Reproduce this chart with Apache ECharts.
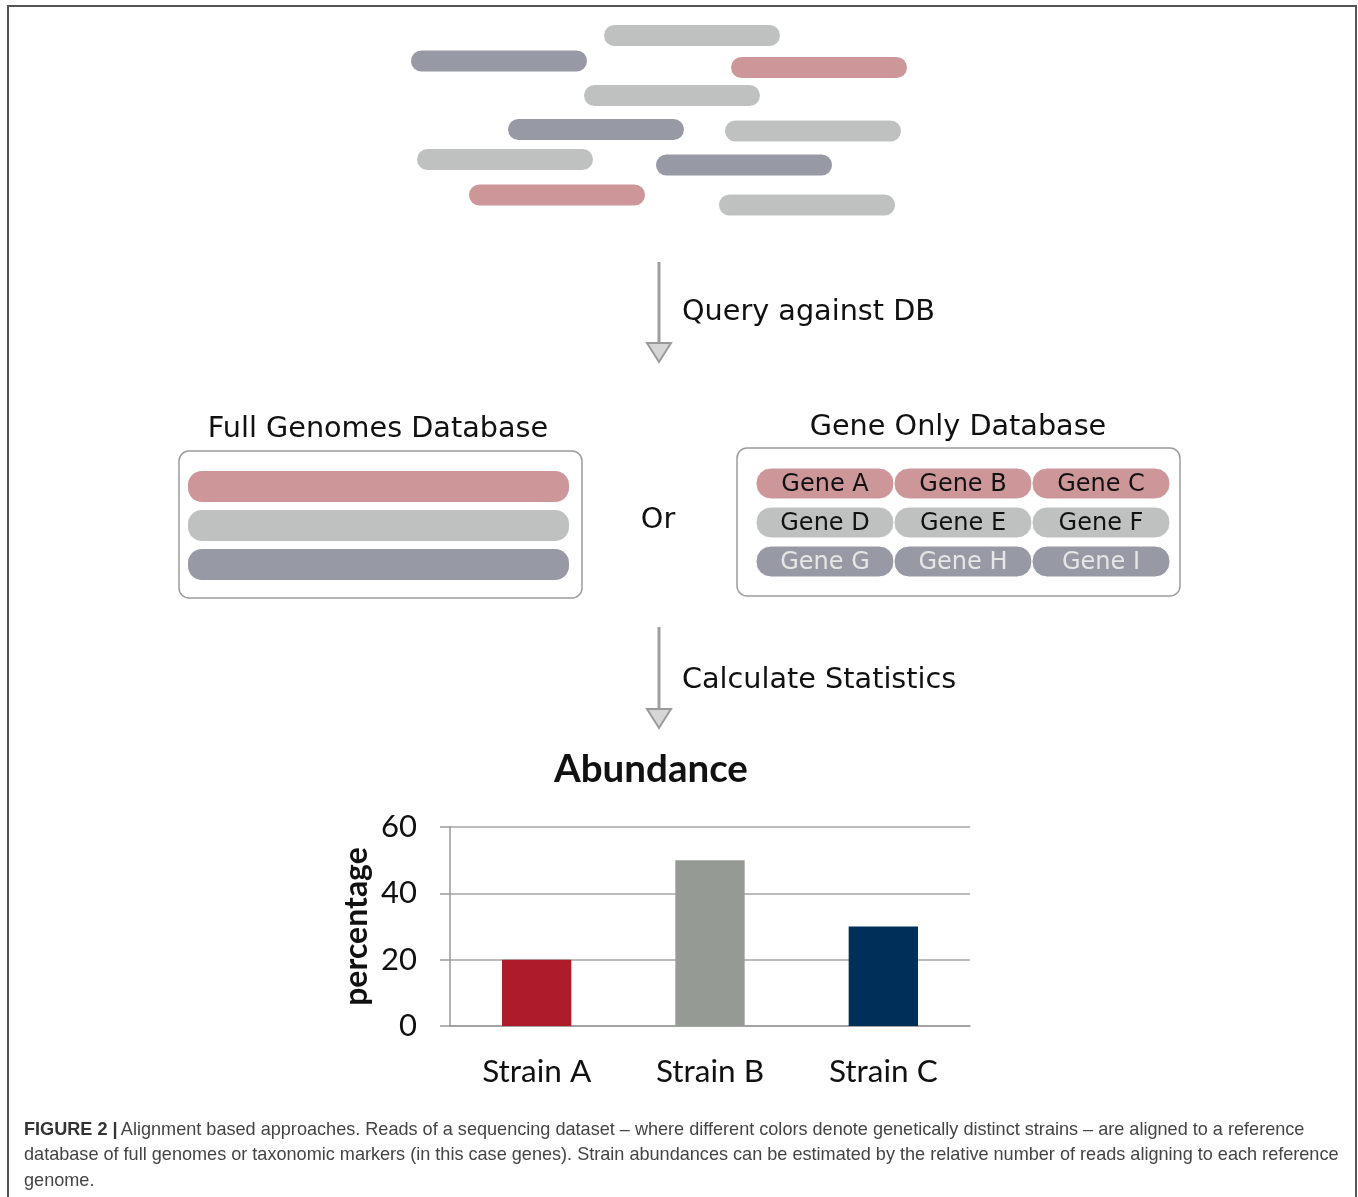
<!DOCTYPE html>
<html>
<head>
<meta charset="utf-8">
<script src="https://cdn.jsdelivr.net/npm/echarts@6/dist/echarts.min.js"></script>
<style>
  html, body { margin: 0; padding: 0; background: #fff; }
  #chart { width: 1358px; height: 1197px; }
</style>
</head>
<body>
<div id="chart"></div>
<script>
// strains used in the diagram: 0 = pink, 1 = light grey, 2 = slate
const strainColors = ['#cd979a', '#bfc1c0', '#979aa5'];

// sequencing reads (page units): start, centre row, strain
const readStart = [604, 411, 731, 584, 508, 725, 417, 656, 469, 719];
const readRow = [35.5, 61, 67.5, 95.5, 129.5, 131, 159.5, 165, 195, 205];
const readStrain = [1, 2, 0, 1, 2, 1, 1, 2, 0, 1];
const readLength = 176;

// gene-only database
const geneNames = ['Gene A', 'Gene B', 'Gene C', 'Gene D', 'Gene E', 'Gene F', 'Gene G', 'Gene H', 'Gene I'];
const geneStrain = [0, 0, 0, 1, 1, 1, 2, 2, 2];

// abundance chart
const strains = ['Strain A', 'Strain B', 'Strain C'];
const abundance = [20, 50, 30];
const barColors = ['#ae1c2b', '#959a95', '#00305a'];
const yTicks = [0, 20, 40, 60];

const dejavu = '"DejaVu Sans", sans-serif';
const calibriLike = 'Lato, "Open Sans", sans-serif';

const chart = echarts.init(document.getElementById('chart'));

const readData = readStart.map((s, i) => [s, s + readLength, readRow[i], readStrain[i]]);

function arrow(y0, y1) {
  return [
    { type: 'line', shape: { x1: 659, y1: y0, x2: 659, y2: y1 }, style: { stroke: '#9f9f9f', lineWidth: 3 } },
    { type: 'polygon', shape: { points: [[647, y1], [671, y1], [659, y1 + 19]] },
      style: { fill: '#d6d6d6', stroke: '#9a9a9a', lineWidth: 2 } },
  ];
}

const graphics = [
  { type: 'rect', shape: { x: 8, y: 6, width: 1348, height: 1210 }, style: { fill: 'none', stroke: '#555', lineWidth: 2 } },
  ...arrow(262, 343),
  { type: 'text', x: 682, y: 313, style: { text: 'Query against DB', font: '28.7px ' + dejavu, fill: '#111', verticalAlign: 'middle' } },
  // full genomes database
  { type: 'text', x: 378, y: 430, style: { text: 'Full Genomes Database', font: '28.7px ' + dejavu, fill: '#111', align: 'center', verticalAlign: 'middle' } },
  { type: 'rect', shape: { x: 179, y: 451, width: 403, height: 147, r: 10 }, style: { fill: '#fff', stroke: '#9c9c9c', lineWidth: 1.5 } },
  { type: 'text', x: 658, y: 521, style: { text: 'Or', font: '28.7px ' + dejavu, fill: '#111', align: 'center', verticalAlign: 'middle' } },
  // gene only database
  { type: 'text', x: 958, y: 428, style: { text: 'Gene Only Database', font: '28.7px ' + dejavu, fill: '#111', align: 'center', verticalAlign: 'middle' } },
  { type: 'rect', shape: { x: 737, y: 448, width: 443, height: 148, r: 10 }, style: { fill: '#fff', stroke: '#9c9c9c', lineWidth: 1.5 } },
  ...arrow(627, 709),
  { type: 'text', x: 682, y: 681, style: { text: 'Calculate Statistics', font: '28.7px ' + dejavu, fill: '#111', verticalAlign: 'middle' } },
  { type: 'text', x: 651, y: 770, style: { text: 'Abundance', font: 'bold 38.5px ' + calibriLike, fill: '#111', align: 'center', verticalAlign: 'middle' } },
  // caption
  { type: 'text', x: 24, y: 1117, style: {
      rich: {
        b: { font: 'bold 18.1px "Liberation Sans", Arial, sans-serif', fill: '#333' },
        n: { font: '18.1px "Liberation Sans", Arial, sans-serif', fill: '#444' },
      },
      text: '{b|FIGURE 2 |} {n|Alignment based approaches. Reads of a sequencing dataset – where different colors denote genetically distinct strains – are aligned to a reference}\n' +
            '{n|database of full genomes or taxonomic markers (in this case genes). Strain abundances can be estimated by the relative number of reads aligning to each reference}\n' +
            '{n|genome.}',
      lineHeight: 25.5,
    } },
];

// genome bars
[0, 1, 2].forEach((s, i) => {
  graphics.push({ type: 'rect', shape: { x: 188, y: 471 + i * 39, width: 381, height: 31, r: 14 }, style: { fill: strainColors[s] } });
});

// gene pills
geneNames.forEach((name, i) => {
  const col = i % 3, row = Math.floor(i / 3);
  const x = 756 + col * 138, y = 468 + row * 39;
  graphics.push({
    type: 'rect', shape: { x: x, y: y, width: 138, height: 31, r: 15 },
    style: { fill: strainColors[geneStrain[i]], stroke: '#fff', lineWidth: 1 },
  });
  graphics.push({
    type: 'text', x: x + 69, y: y + 17,
    style: { text: name, font: '24px ' + dejavu, fill: geneStrain[i] === 2 ? '#e6e6e6' : '#111', align: 'center', verticalAlign: 'middle' },
  });
});

chart.setOption({
  animation: false,
  grid: [
    { left: 450, top: 827, width: 520, height: 199 },
    { left: 0, top: 0, width: 1358, height: 1197 },
  ],
  xAxis: [
    {
      type: 'category', gridIndex: 0, data: strains,
      axisLine: { lineStyle: { color: '#9a9a9a', width: 1.5 } },
      axisTick: { length: 10, lineStyle: { color: '#9a9a9a', width: 1.5 } },
      axisLabel: { color: '#111', fontFamily: calibriLike, fontSize: 31.5, margin: 30 },
    },
    { type: 'value', gridIndex: 1, min: 0, max: 1358, show: false },
  ],
  yAxis: [
    {
      type: 'value', gridIndex: 0, min: yTicks[0], max: yTicks[yTicks.length - 1], interval: 20,
      name: 'percentage', nameLocation: 'middle', nameRotate: 90, nameGap: 77,
      nameTextStyle: { color: '#111', fontFamily: calibriLike, fontWeight: 'bold', fontSize: 32 },
      axisLine: { show: true, lineStyle: { color: '#9a9a9a', width: 1.5 } },
      axisTick: { show: true, length: 10, lineStyle: { color: '#9a9a9a', width: 1.5 } },
      axisLabel: { color: '#111', fontFamily: calibriLike, fontSize: 31, margin: 33 },
      splitLine: { lineStyle: { color: '#a6a6a6', width: 1.5 } },
    },
    { type: 'value', gridIndex: 1, min: 0, max: 1197, inverse: true, show: false },
  ],
  series: [
    {
      type: 'bar', xAxisIndex: 0, yAxisIndex: 0, barWidth: '40%',
      data: abundance.map((v, i) => ({ value: v, itemStyle: { color: barColors[i] } })),
    },
    {
      type: 'custom', xAxisIndex: 1, yAxisIndex: 1, data: readData,
      renderItem: (params, api) => {
        const p0 = api.coord([api.value(0), api.value(2)]);
        const p1 = api.coord([api.value(1), api.value(2)]);
        return {
          type: 'rect',
          shape: { x: p0[0], y: p0[1] - 10.5, width: p1[0] - p0[0], height: 21, r: 10.5 },
          style: { fill: strainColors[api.value(3)] },
        };
      },
    },
  ],
  graphic: graphics,
});
</script>
</body>
</html>
